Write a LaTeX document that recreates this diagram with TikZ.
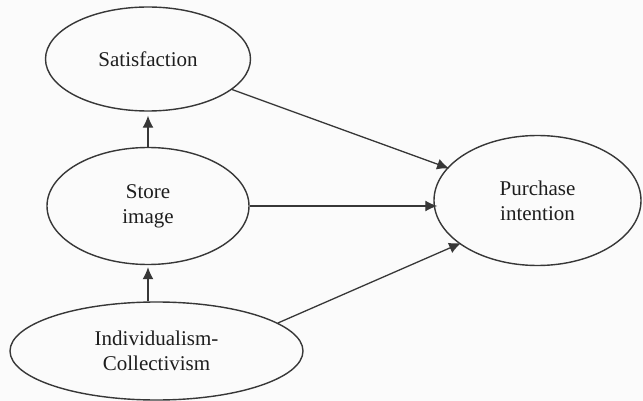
\documentclass[tikz,border=0pt]{standalone}
\usepackage{fontspec}
\setmainfont{Liberation Serif}
\usetikzlibrary{shapes.geometric,arrows.meta}
\definecolor{bgcol}{RGB}{251,251,251}
\definecolor{linecol}{RGB}{55,55,55}
\definecolor{textcol}{RGB}{30,30,30}

\begin{document}
\begin{tikzpicture}[x=1pt,y=-1pt,
   construct/.style={ellipse,draw=linecol,line width=1.4pt,inner sep=0pt,
      text=textcol,align=center,font=\fontsize{21}{25}\selectfont},
   link/.style={draw=linecol,line width=1.3pt,-{Latex[length=12pt,width=11pt]}}]
   \useasboundingbox[fill=bgcol] (0,0) rectangle (643,401);
   \node[construct,minimum width=205pt,minimum height=104pt] (sat) at (148,59) {Satisfaction};
   \node[construct,minimum width=202pt,minimum height=117pt] (store) at (148,206) {Store\\image};
   \node[construct,minimum width=293pt,minimum height=98pt] (indiv) at (156.5,351) {Individualism-\\Collectivism};
   \node[construct,minimum width=207pt,minimum height=130pt] (purch) at (537.5,200.5) {Purchase\\intention};
   \draw[link,shorten >=4pt] (store) -- (sat);
   \draw[link,shorten >=2pt] (indiv.north -| store) -- (store);
   \draw[link,shorten >=-2pt] (sat) -- (purch);
   \draw[link,shorten >=-4pt] (store.east) -- (store.east -| purch.west);
   \draw[link,shorten >=-2pt] (indiv.13) -- (purch.209);
\end{tikzpicture}
\end{document}
